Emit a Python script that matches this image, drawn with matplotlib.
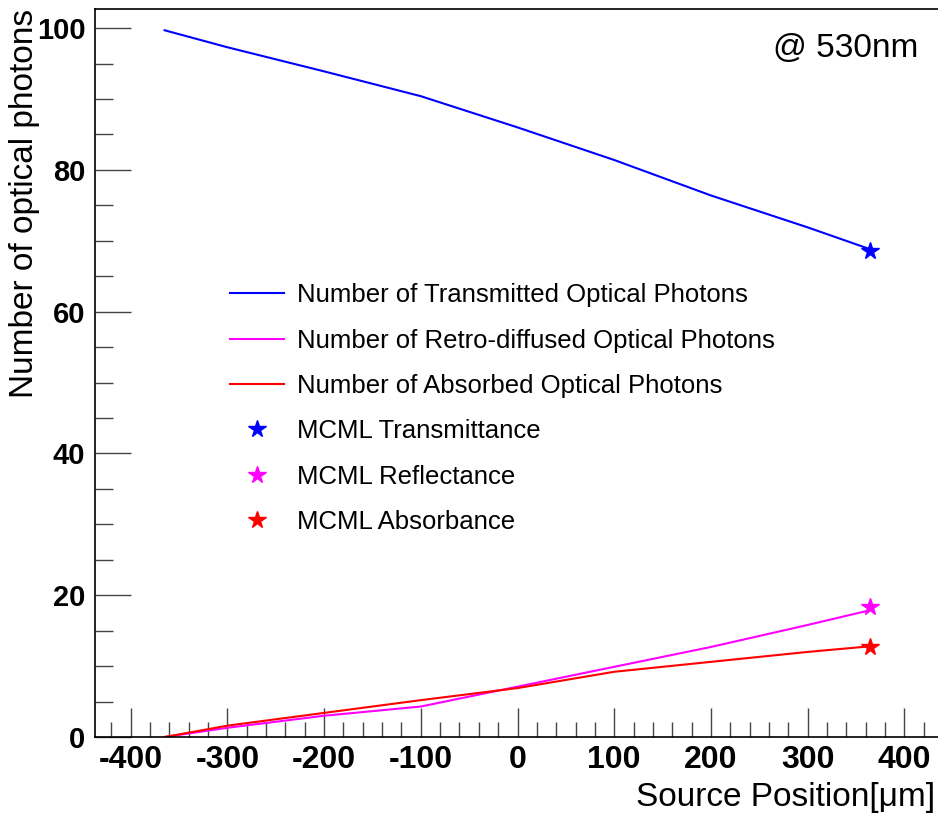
import matplotlib
matplotlib.use('Agg')
import matplotlib.pyplot as plt

# source positions (um) and photon counts
pos = [-365, -300, -200, -100, 0, 100, 200, 300, 365]
transmitted = [99.7, 97.3, 93.9, 90.4, 86.0, 81.4, 76.4, 71.9, 68.8]
retro = [0.0, 1.3, 3.0, 4.3, 7.1, 9.9, 12.7, 15.8, 17.9]
absorbed = [0.0, 1.6, 3.4, 5.2, 6.9, 9.2, 10.6, 12.0, 12.8]

# MCML reference values at the last position
mcml_pos = [365]
mcml_T = [68.6]
mcml_R = [18.4]
mcml_A = [12.7]

xticks = [-400, -300, -200, -100, 0, 100, 200, 300, 400]
yticks = [0, 20, 40, 60, 80, 100]

plt.rcParams['font.family'] = ['Liberation Sans', 'DejaVu Sans']
plt.rcParams['axes.unicode_minus'] = False

fig = plt.figure(figsize=(9.38, 8.15), dpi=100)
ax = fig.add_axes([95 / 938, 78 / 815, 845 / 938, 728 / 815])

ax.plot(pos, transmitted, color='#0000ff', lw=1.5, label='Number of Transmitted Optical Photons')
ax.plot(pos, retro, color='#ff00ff', lw=1.5, label='Number of Retro-diffused Optical Photons')
ax.plot(pos, absorbed, color='#ff0000', lw=1.5, label='Number of Absorbed Optical Photons')
ax.plot(mcml_pos, mcml_T, ls='none', marker='*', ms=13, color='#0000ff', label='MCML Transmittance')
ax.plot(mcml_pos, mcml_R, ls='none', marker='*', ms=13, color='#ff00ff', label='MCML Reflectance')
ax.plot(mcml_pos, mcml_A, ls='none', marker='*', ms=13, color='#ff0000', label='MCML Absorbance')

ax.set_xlim(-437, 437)
ax.set_ylim(0, 102.7)

ax.set_xticks(xticks, [str(v) for v in xticks], fontsize=23, fontweight='bold')
ax.set_yticks(yticks, [str(v) for v in yticks], fontsize=21, fontweight='bold')
ax.set_xticks(range(-420, 440, 20), minor=True)
ax.set_yticks(range(0, 105, 5), minor=True)
ax.tick_params(which='both', direction='in', top=False, right=False, color='#444444')
ax.tick_params(axis='x', which='major', length=21, width=1, pad=6)
ax.tick_params(axis='x', which='minor', length=11, width=1)
ax.tick_params(axis='y', which='major', length=26, width=1, pad=7)
ax.tick_params(axis='y', which='minor', length=13, width=1)

ax.spines['right'].set_visible(False)
for s in ['left', 'bottom', 'top']:
    ax.spines[s].set_linewidth(1.2)

ax.set_xlabel('Source Position[\u03bcm]', fontsize=24)
ax.xaxis.set_label_coords((935 - 95) / 845, -0.062)
ax.xaxis.label.set_ha('right')
ax.set_ylabel('Number of optical photons', fontsize=24)
ax.yaxis.set_label_coords(-0.083, 1.0)
ax.yaxis.label.set_va('center')
ax.yaxis.label.set_ha('right')

ax.text(0.974, 0.946, '@ 530nm', transform=ax.transAxes, ha='right', va='center', fontsize=24)

ax.legend(loc='upper left', bbox_to_anchor=(0.16, 0.623), frameon=False, fontsize=18.5,
          handlelength=2.1, handletextpad=0.5, labelspacing=0.83, borderpad=0, borderaxespad=0)

plt.savefig('out.png', dpi=100)
